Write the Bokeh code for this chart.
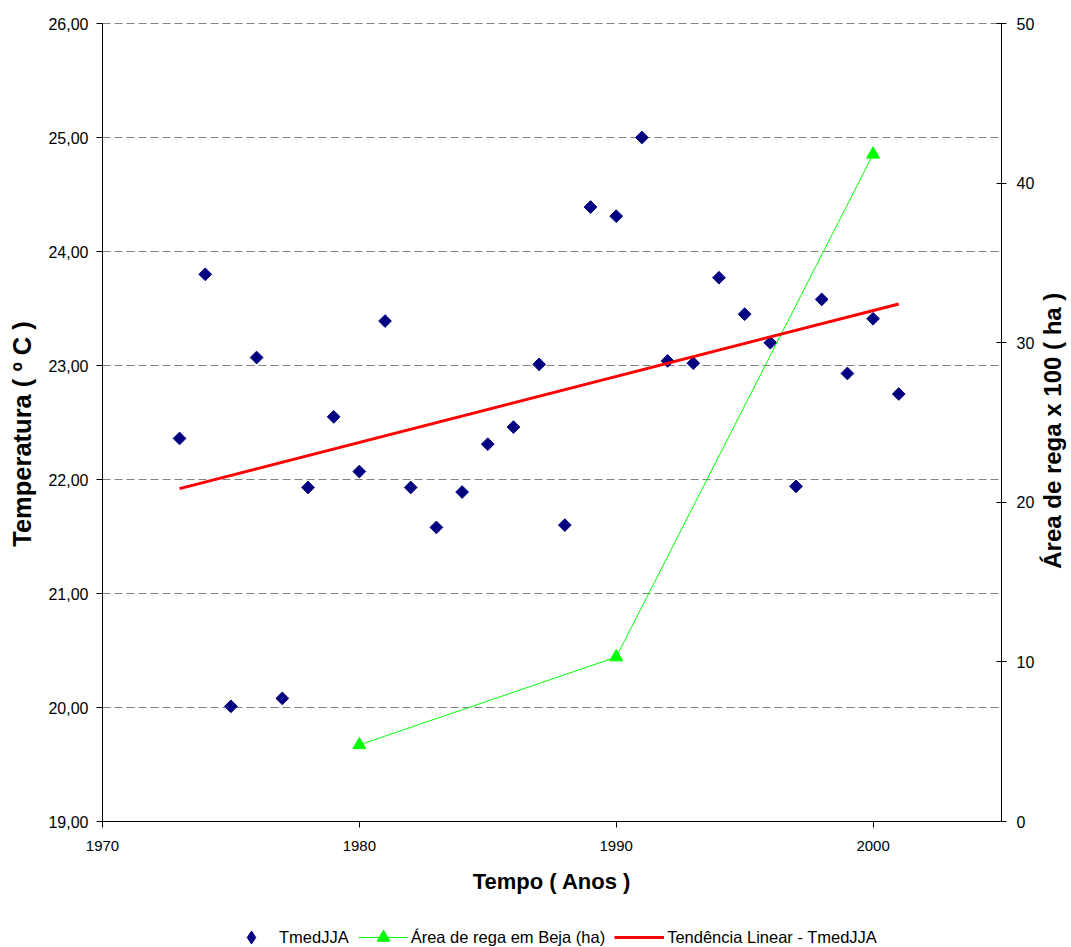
import math
from bokeh.plotting import figure
from bokeh.layouts import column, row
from bokeh.models import (Range1d, LinearAxis, FixedTicker, Legend, LegendItem,
                          ColumnDataSource, Grid, Label)
from bokeh.embed import file_html
from bokeh.resources import INLINE

# ---- data ----
years = [1973, 1974, 1975, 1976, 1977, 1978, 1979, 1980, 1981, 1982, 1983, 1984,
         1985, 1986, 1987, 1988, 1989, 1990, 1991, 1992, 1993, 1994, 1995, 1996,
         1997, 1998, 1999, 2000, 2001]
tmed_jja = [22.36, 23.80, 20.01, 23.07, 20.08, 21.93, 22.55, 22.07, 23.39, 21.93,
            21.58, 21.89, 22.31, 22.46, 23.01, 21.60, 24.39, 24.31, 25.00, 23.04,
            23.02, 23.77, 23.45, 23.20, 21.94, 23.58, 22.93, 23.41, 22.75]
area_years = [1980, 1990, 2000]
area_rega = [4.8, 10.3, 41.8]
trend_years = [1973, 2001]
trend_temp = [21.92, 23.54]
y_ticks = [19, 20, 21, 22, 23, 24, 25, 26]
y_tick_labels = ["19,00", "20,00", "21,00", "22,00", "23,00", "24,00", "25,00", "26,00"]
y2_ticks = [0, 10, 20, 30, 40, 50]
x_ticks = [1970, 1980, 1990, 2000]

FONT = "Liberation Sans"
NAVY = "#000080"
GREEN = "#00FF00"
RED = "#FF0000"


def blank_fig(w, h):
    f = figure(width=w, height=h, output_backend="svg", toolbar_location=None,
               x_range=Range1d(0, 1), y_range=Range1d(0, 1), min_border=0,
               x_axis_location=None, y_axis_location=None)
    for g in f.grid:
        g.visible = False
    f.outline_line_color = None
    return f


# ---------------- main plot ----------------
p = figure(frame_width=899, frame_height=798, output_backend="svg", toolbar_location=None,
           x_range=Range1d(1970, 2005), y_range=Range1d(19, 26),
           min_border_left=62, min_border_right=35, min_border_top=23,
           min_border_bottom=79, x_axis_location=None, y_axis_location=None)
for g in p.grid:
    g.visible = False
p.outline_line_color = None
p.background_fill_color = "white"
p.border_fill_color = "white"
p.extra_y_ranges = {"area": Range1d(0, 50)}

xaxis = LinearAxis(ticker=FixedTicker(ticks=x_ticks), axis_label="Tempo ( Anos )")
yaxis = LinearAxis(ticker=FixedTicker(ticks=y_ticks),
                   major_label_overrides={t: l for t, l in zip(y_ticks, y_tick_labels)})
y2axis = LinearAxis(y_range_name="area", ticker=FixedTicker(ticks=y2_ticks))
for ax in (xaxis, yaxis, y2axis):
    ax.axis_line_color = "black"
    ax.major_tick_line_color = "black"
    ax.minor_tick_line_color = None
    ax.major_label_text_font = FONT
    ax.major_label_text_color = "black"
    ax.axis_label_text_font = FONT
    ax.axis_label_text_font_style = "bold"
    ax.axis_label_text_color = "black"
xaxis.axis_label_text_font_size = "22px"
xaxis.major_tick_in = 0
xaxis.major_tick_out = 6
xaxis.major_label_text_font_size = "15px"
xaxis.major_label_standoff = 13
xaxis.axis_label_standoff = 15
yaxis.major_tick_in = 0
yaxis.major_tick_out = 6
yaxis.major_label_text_font_size = "16px"
yaxis.major_label_standoff = 8
y2axis.major_tick_in = 5
y2axis.major_tick_out = 5
y2axis.major_label_text_font_size = "16px"
y2axis.major_label_standoff = 10
p.add_layout(xaxis, "below")
p.add_layout(yaxis, "left")
p.add_layout(y2axis, "right")

# dashed top line (gridline at 26,00)
top_axis = LinearAxis(ticker=FixedTicker(ticks=[]), axis_line_color="#808080",
                      axis_line_dash="8 4", major_tick_line_color=None,
                      minor_tick_line_color=None, major_label_text_font_size="0px",
                      major_label_standoff=0)
p.add_layout(top_axis, "above")

grid = Grid(dimension=1, ticker=FixedTicker(ticks=y_ticks[1:-1]),
            grid_line_color="#808080", grid_line_dash="8 4", grid_line_width=1)
p.add_layout(grid)

src = ColumnDataSource(dict(x=years, y=tmed_jja))
p.scatter("x", "y", source=src, marker="square", size=9, angle=math.pi / 4,
          fill_color=NAVY, line_color=NAVY)
p.line(area_years, area_rega, y_range_name="area", line_color=GREEN, line_width=1)
p.scatter(area_years, area_rega, y_range_name="area", marker="triangle",
          size=13, fill_color=GREEN, line_color=GREEN)
p.line(trend_years, trend_temp, line_color=RED, line_width=3)

# ---------------- vertical axis titles (read bottom-to-top) ----------------
lt = blank_fig(40, 900)
lt.add_layout(Label(x=0.53, y=0.4856, text="Temperatura ( º C )", angle=math.pi / 2,
                    text_align="center", text_baseline="middle", text_font=FONT,
                    text_font_style="bold", text_font_size="25.5px", text_color="black"))
rt = blank_fig(35, 900)
rt.add_layout(Label(x=0.42, y=0.4897, text="Área de rega x 100 ( ha )", angle=math.pi / 2,
                    text_align="center", text_baseline="middle", text_font=FONT,
                    text_font_style="bold", text_font_size="24px", text_color="black"))

# ---------------- legend strip ----------------
lg = blank_fig(1071, 47)
l_pts = lg.scatter(years, tmed_jja, marker="diamond", fill_color=NAVY, line_color=NAVY)
l_area_line = lg.line(area_years, area_rega, line_color=GREEN, line_width=1)
l_area_pts = lg.scatter(area_years, area_rega, marker="triangle",
                        fill_color=GREEN, line_color=GREEN)
l_trend = lg.line(trend_years, trend_temp, line_color=RED, line_width=3)

legend = Legend(items=[
    LegendItem(label="TmedJJA", renderers=[l_pts]),
    LegendItem(label="Área de rega em Beja (ha)", renderers=[l_area_line, l_area_pts]),
    LegendItem(label="Tendência Linear - TmedJJA", renderers=[l_trend]),
], orientation="horizontal", location=(226, -6))
legend.label_text_font = FONT
legend.label_text_font_size = "16.5px"
legend.label_text_color = "black"
legend.glyph_width = 50
legend.glyph_height = 32
legend.label_standoff = 3
legend.spacing = 9
legend.padding = 0
legend.margin = 0
legend.border_line_color = None
legend.background_fill_alpha = 0
lg.add_layout(legend, "center")

layout = column(row(lt, p, rt), lg)
open("out.html", "w").write(file_html(layout, INLINE))
